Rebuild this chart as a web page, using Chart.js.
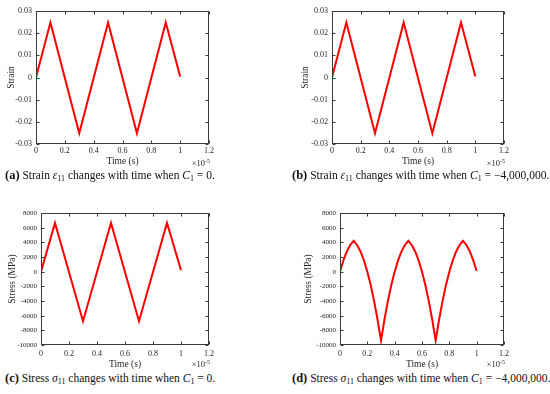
<!DOCTYPE html>
<html>
<head>
<meta charset="utf-8">
<script src="https://cdn.jsdelivr.net/npm/chart.js@4"></script>
<style>
  body { margin: 0; background: #fff; width: 550px; height: 394px; position: relative; overflow: hidden; font-family: "Liberation Serif", serif; }
  canvas { position: absolute; }
  .cap { position: absolute; font-size: 11.5px; color: #111; white-space: nowrap; line-height: 14px; }
  .cap b { font-size: 12.5px; }
  .cap sub { font-size: 8px; vertical-align: baseline; position: relative; top: 2px; }
</style>
</head>
<body>
<canvas id="chartA" width="275" height="170" style="left:0;top:0"></canvas>
<canvas id="chartB" width="275" height="170" style="left:275px;top:0"></canvas>
<canvas id="chartC" width="275" height="175" style="left:0;top:195px"></canvas>
<canvas id="chartD" width="275" height="175" style="left:275px;top:195px"></canvas>

<div class="cap" style="left:5px;top:168px"><b>(a)</b> Strain <i>ε</i><sub>11</sub> changes with time when <i>C</i><sub>1</sub> = 0.</div>
<div class="cap" style="left:292px;top:168px"><b>(b)</b> Strain <i>ε</i><sub>11</sub> changes with time when <i>C</i><sub>1</sub> = −4,000,000.</div>
<div class="cap" style="left:5px;top:371px"><b>(c)</b> Stress <i>σ</i><sub>11</sub> changes with time when <i>C</i><sub>1</sub> = 0.</div>
<div class="cap" style="left:292px;top:371px"><b>(d)</b> Stress <i>σ</i><sub>11</sub> changes with time when <i>C</i><sub>1</sub> = −4,000,000.</div>

<script>
// time in units of 1e-5 s
const timeTri = [0, 0.1, 0.3, 0.5, 0.7, 0.9, 1.0];
const strainA = [0, 0.0248, -0.0252, 0.0248, -0.0252, 0.0248, 0.0004];
const strainB = [0, 0.0248, -0.0252, 0.0248, -0.0252, 0.0248, 0.0004];
const stressC = [0, 6650, -6750, 6650, -6750, 6650, 200];

const timeD = [0, 0.025, 0.05, 0.075, 0.1, 0.125, 0.15, 0.175, 0.2, 0.225, 0.25, 0.275, 0.3, 0.325,
    0.35, 0.375, 0.4, 0.425, 0.45, 0.475, 0.5, 0.525, 0.55, 0.575, 0.6, 0.625, 0.65, 0.675,
    0.7, 0.725, 0.75, 0.775, 0.8, 0.825, 0.85, 0.875, 0.9, 0.925, 0.95, 0.975, 1.0];
const stressD = [0, 1540, 2750, 3640, 4200, 3640, 2750, 1540, 0, -1860, -4050, -6560, -9400,
    -6560, -4050, -1860, 0, 1540, 2750, 3640, 4200, 3640, 2750, 1540, 0, -1860, -4050, -6560,
    -9400, -6560, -4050, -1860, 0, 1540, 2750, 3640, 4200, 3640, 2750, 1540, 100];

const timeTicks = [0, 0.2, 0.4, 0.6, 0.8, 1, 1.2];
const strainTicks = [-0.03, -0.02, -0.01, 0, 0.01, 0.02, 0.03];
const stressTicks = [-10000, -8000, -6000, -4000, -2000, 0, 2000, 4000, 6000, 8000];

Chart.defaults.font.family = '"Liberation Serif", serif';
Chart.defaults.color = '#262626';

// matlab style box with inward ticks and the x10^-5 exponent
const boxPlugin = {
    id: 'matlabBox',
    afterDraw(chart) {
        const ctx = chart.ctx;
        const a = chart.chartArea;
        const x = chart.scales.x;
        const y = chart.scales.y;
        ctx.save();
        ctx.strokeStyle = '#3a3a3a';
        ctx.lineWidth = 1;
        const l = Math.round(a.left) + 0.5, r = Math.round(a.right) - 0.5;
        const t = Math.round(a.top) + 0.5, b = Math.round(a.bottom) - 0.5;
        ctx.strokeRect(l, t, r - l, b - t);
        ctx.beginPath();
        x.ticks.forEach(function (tk) {
            const px = Math.round(x.getPixelForValue(tk.value)) + 0.5;
            ctx.moveTo(px, b); ctx.lineTo(px, b - 3);
            ctx.moveTo(px, t); ctx.lineTo(px, t + 3);
        });
        y.ticks.forEach(function (tk) {
            const py = Math.round(y.getPixelForValue(tk.value)) + 0.5;
            ctx.moveTo(l, py); ctx.lineTo(l + 3, py);
            ctx.moveTo(r, py); ctx.lineTo(r - 3, py);
        });
        ctx.stroke();

        ctx.fillStyle = '#262626';
        ctx.textBaseline = 'middle';
        ctx.textAlign = 'left';
        ctx.font = '6px "Liberation Serif"';
        const supW = ctx.measureText('-5').width;
        ctx.font = '8.5px "Liberation Serif"';
        const baseW = ctx.measureText('×10').width;
        const x0 = a.right + 1 - supW - baseW;
        const y0 = a.bottom + 20;
        ctx.fillText('×10', x0, y0);
        ctx.font = '6px "Liberation Serif"';
        ctx.fillText('-5', x0 + baseW, y0 - 3);
        ctx.restore();
    }
};

function makePanel(id, xs, ys, yTicks, cfg) {
    const points = xs.map(function (t, i) { return {x: t, y: ys[i]}; });
    return new Chart(document.getElementById(id), {
        type: 'line',
        data: {
            datasets: [{
                data: points,
                borderColor: '#ff0000',
                borderWidth: 2,
                pointRadius: 0,
                tension: 0,
                fill: false,
            }],
        },
        options: {
            responsive: false,
            animation: false,
            events: [],
            layout: {padding: {top: cfg.padTop, right: cfg.padRight, left: 0, bottom: 0}},
            plugins: {legend: {display: false}, tooltip: {enabled: false}},
            scales: {
                x: {
                    type: 'linear',
                    min: 0,
                    max: 1.2,
                    grid: {display: false, drawTicks: false},
                    border: {display: false},
                    afterBuildTicks: function (s) { s.ticks = timeTicks.map(function (v) { return {value: v}; }); },
                    afterFit: function (s) { s.height = cfg.xHeight; },
                    ticks: {
                        font: {size: 8},
                        padding: cfg.xTickPad,
                        maxRotation: 0,
                        autoSkip: false,
                        callback: function (v) { return String(+v.toFixed(1)); },
                    },
                    title: {display: true, text: 'Time (s)', font: {size: 9.5}, padding: {top: 0, bottom: cfg.xTitlePad}},
                },
                y: {
                    type: 'linear',
                    min: yTicks[0],
                    max: yTicks[yTicks.length - 1],
                    grid: {display: false, drawTicks: false},
                    border: {display: false},
                    afterBuildTicks: function (s) { s.ticks = yTicks.map(function (v) { return {value: v}; }); },
                    afterFit: function (s) { s.width = cfg.yWidth; },
                    ticks: {
                        font: {size: cfg.yTickSize},
                        padding: 4,
                        autoSkip: false,
                        callback: function (v) { return String(+v.toFixed(2)); },
                    },
                    title: {display: true, text: cfg.yTitle, font: {size: 9.5}, padding: {top: cfg.yTitlePad, bottom: 0}},
                },
            },
        },
        plugins: [boxPlugin],
    });
}

makePanel('chartA', timeTri, strainA, strainTicks,
    {padTop: 11, padRight: 66, yWidth: 36, xHeight: 26, xTickPad: 2, xTitlePad: 3.3, yTitlePad: 5.3, yTickSize: 8, yTitle: 'Strain'});
makePanel('chartB', timeTri, strainB, strainTicks,
    {padTop: 11, padRight: 46, yWidth: 57, xHeight: 26, xTickPad: 2, xTitlePad: 3.3, yTitlePad: 25, yTickSize: 8, yTitle: 'Strain'});
makePanel('chartC', timeTri, stressC, stressTicks,
    {padTop: 18, padRight: 66, yWidth: 41, xHeight: 25, xTickPad: 4, xTitlePad: 0.3, yTitlePad: 6.6, yTickSize: 7, yTitle: 'Stress (MPa)'});
makePanel('chartD', timeD, stressD, stressTicks,
    {padTop: 18, padRight: 46, yWidth: 65, xHeight: 25, xTickPad: 4, xTitlePad: 0.3, yTitlePad: 27.3, yTickSize: 7, yTitle: 'Stress (MPa)'});
</script>
</body>
</html>
